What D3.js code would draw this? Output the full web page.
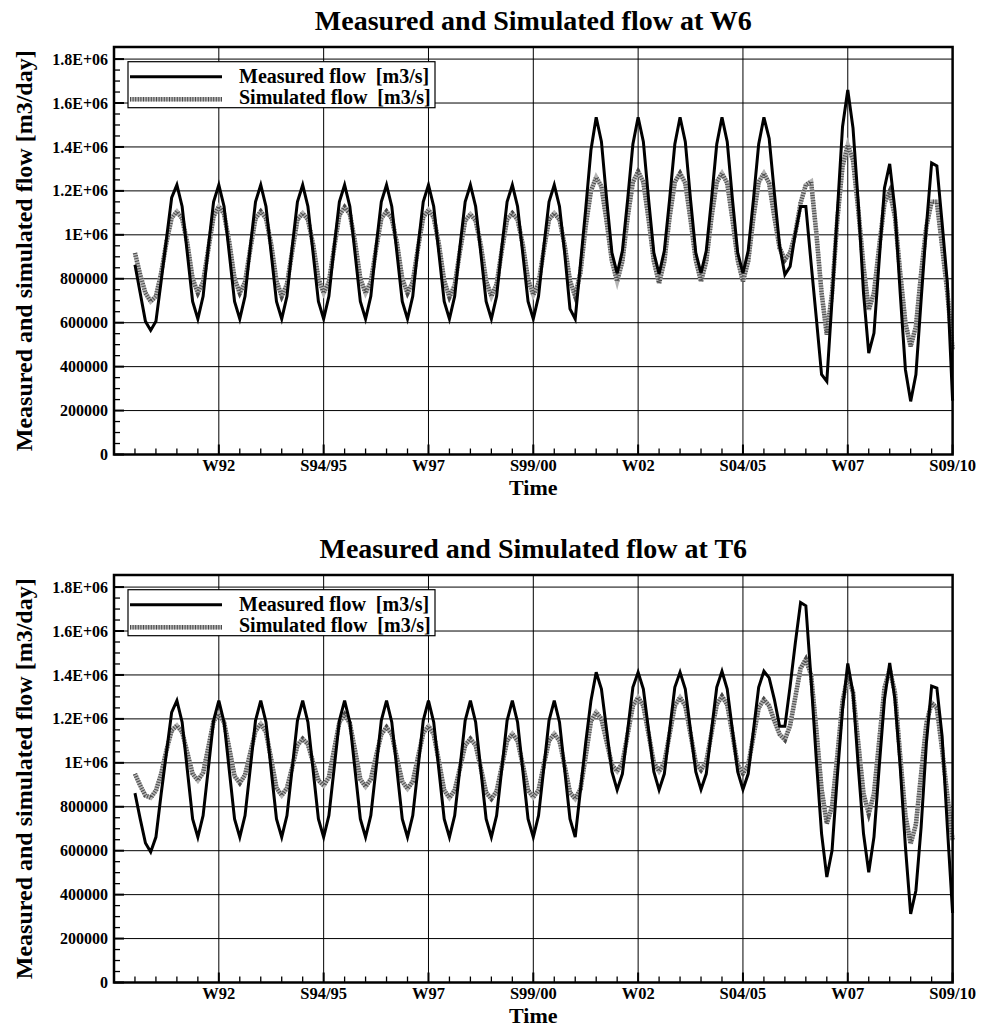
<!DOCTYPE html>
<html>
<head>
<meta charset="utf-8">
<title>Measured and Simulated flow</title>
<style>
  body { margin: 0; background: #fff; }
  text { font-family: "Liberation Serif", "Times New Roman", serif; font-weight: bold; fill: #000; }
</style>
</head>
<body>
<div id="chart"></div>
<script src="https://cdn.jsdelivr.net/npm/d3@7/dist/d3.min.js"></script>
<script>
// time axis: one unit = one season (half year), samples every quarter season
var seasonTicks = [5, 10, 15, 20, 25, 30, 35, 40];
var seasonLabels = ["W92", "S94/95", "W97", "S99/00", "W02", "S04/05", "W07", "S09/10"];
var firstSeason = 1;
var samplesPerSeason = 4;

var flowTicks = [0, 200000, 400000, 600000, 800000, 1000000, 1200000, 1400000, 1600000, 1800000];
var flowLabels = ["0", "200000", "400000", "600000", "800000", "1E+06", "1.2E+06", "1.4E+06", "1.6E+06", "1.8E+06"];

// flows in 1000 m3/day, one row = one year
var measuredW6 = [
  864, 735, 606, 565, 606, 790, 980, 1169,
  1227, 1129, 913, 697, 617, 720, 945, 1150,
  1227, 1129, 913, 697, 617, 720, 945, 1150,
  1227, 1129, 913, 697, 617, 720, 945, 1150,
  1227, 1129, 913, 697, 617, 720, 945, 1150,
  1227, 1129, 913, 697, 617, 720, 945, 1150,
  1227, 1129, 913, 697, 617, 720, 945, 1150,
  1227, 1129, 913, 697, 617, 720, 945, 1150,
  1227, 1129, 913, 697, 617, 720, 945, 1150,
  1227, 1129, 913, 697, 617, 720, 945, 1150,
  1227, 1129, 913, 663, 617, 868, 1118, 1386,
  1535, 1424, 1160, 918, 824, 927, 1160, 1412,
  1535, 1424, 1160, 918, 822, 927, 1160, 1412,
  1535, 1424, 1160, 918, 826, 927, 1160, 1412,
  1535, 1424, 1160, 918, 826, 927, 1160, 1412,
  1535, 1439, 1189, 949, 818, 856, 1008, 1129,
  1129, 871, 621, 364, 333, 705, 1100, 1492,
  1659, 1486, 1145, 736, 462, 553, 886, 1213,
  1323, 1114, 736, 386, 242, 364, 705, 1038,
  1327, 1314, 1053, 780, 245
];
var simulatedW6 = [
  917, 818, 735, 697, 720, 826, 965, 1077,
  1106, 1075, 960, 800, 735, 785, 935, 1085,
  1129, 1095, 965, 800, 735, 785, 935, 1075,
  1106, 1075, 955, 790, 720, 775, 925, 1070,
  1098, 1070, 955, 800, 735, 785, 940, 1090,
  1126, 1095, 965, 800, 735, 785, 935, 1075,
  1106, 1075, 960, 800, 735, 785, 940, 1080,
  1113, 1080, 955, 790, 717, 770, 925, 1065,
  1094, 1065, 950, 790, 720, 775, 930, 1070,
  1098, 1070, 955, 795, 727, 780, 930, 1070,
  1098, 1070, 950, 790, 720, 830, 1040, 1200,
  1262, 1220, 1060, 880, 788, 880, 1080, 1240,
  1288, 1240, 1070, 880, 780, 880, 1080, 1240,
  1280, 1235, 1070, 885, 788, 880, 1080, 1240,
  1280, 1235, 1070, 885, 788, 880, 1080, 1240,
  1280, 1235, 1080, 940, 886, 918, 1008, 1145,
  1227, 1242, 1008, 736, 545, 736, 1068, 1311,
  1409, 1341, 1114, 856, 659, 736, 947, 1144,
  1197, 1083, 826, 599, 492, 583, 826, 1038,
  1150, 1150, 947, 736, 477
];
var measuredT6 = [
  862, 745, 635, 594, 662, 859, 1045, 1230,
  1283, 1185, 965, 745, 662, 760, 975, 1192,
  1283, 1185, 965, 745, 662, 760, 975, 1192,
  1283, 1185, 965, 745, 662, 760, 975, 1192,
  1283, 1185, 965, 745, 662, 760, 975, 1192,
  1283, 1185, 965, 745, 662, 760, 975, 1192,
  1283, 1185, 965, 745, 662, 760, 975, 1192,
  1283, 1185, 965, 745, 662, 760, 975, 1192,
  1283, 1185, 965, 745, 662, 760, 975, 1192,
  1283, 1185, 965, 745, 662, 760, 975, 1192,
  1283, 1185, 965, 745, 662, 877, 1092, 1283,
  1412, 1336, 1147, 960, 877, 950, 1147, 1344,
  1412, 1336, 1147, 960, 877, 950, 1147, 1344,
  1412, 1336, 1147, 960, 879, 950, 1147, 1344,
  1417, 1336, 1147, 960, 879, 950, 1147, 1344,
  1417, 1387, 1288, 1166, 1166, 1349, 1547, 1730,
  1715, 1379, 1013, 678, 480, 601, 937, 1242,
  1452, 1318, 983, 678, 502, 663, 983, 1288,
  1455, 1288, 983, 617, 312, 419, 708, 1090,
  1349, 1340, 1120, 708, 317
];
var simulatedT6 = [
  950, 897, 851, 841, 874, 950, 1056, 1147,
  1170, 1140, 1045, 950, 920, 955, 1070, 1190,
  1223, 1185, 1065, 940, 908, 945, 1045, 1145,
  1177, 1140, 1015, 885, 852, 885, 980, 1080,
  1109, 1085, 1000, 920, 897, 935, 1060, 1185,
  1220, 1180, 1055, 925, 892, 925, 1030, 1130,
  1162, 1130, 1020, 915, 882, 915, 1025, 1135,
  1167, 1130, 1005, 875, 841, 875, 975, 1080,
  1109, 1080, 975, 865, 836, 870, 985, 1100,
  1132, 1100, 990, 875, 844, 875, 990, 1100,
  1132, 1100, 985, 865, 836, 880, 1030, 1190,
  1230, 1200, 1095, 990, 962, 1000, 1130, 1260,
  1298, 1260, 1130, 1000, 962, 1000, 1130, 1260,
  1298, 1260, 1130, 1000, 967, 1005, 1135, 1265,
  1303, 1265, 1130, 990, 952, 990, 1120, 1250,
  1288, 1260, 1190, 1130, 1105, 1170, 1300, 1430,
  1471, 1400, 1150, 880, 724, 800, 1030, 1280,
  1395, 1320, 1090, 860, 769, 860, 1100, 1340,
  1425, 1320, 1030, 760, 632, 720, 950, 1180,
  1273, 1250, 1060, 850, 647
];

var legendNames = ["Measured flow  [m3/s]", "Simulated flow  [m3/s]"];

var panels = [
  {title: "Measured and Simulated flow at W6", measured: measuredW6, simulated: simulatedW6, top: 47},
  {title: "Measured and Simulated flow at T6", measured: measuredT6, simulated: simulatedT6, top: 575}
];

var width = 989, height = 1030;
var left = 114, right = 952.6, plotH = 407.5;

var svg = d3.select("#chart").append("svg")
  .attr("width", width)
  .attr("height", height);

var x = d3.scaleLinear().domain([0, 40]).range([left, right]);

function drawSimulated(g, d, path) {
  g.append("path").attr("d", path(d))
    .attr("fill", "none").attr("stroke", "#b4b4b4").attr("stroke-width", 4.5);
  g.append("path").attr("d", path(d))
    .attr("fill", "none").attr("stroke", "#4a4a4a").attr("stroke-width", 4.5)
    .attr("stroke-dasharray", "1,1.6");
}

panels.forEach(function(p) {
  var top = p.top, bottom = top + plotH;
  var y = d3.scaleLinear().domain([0, 1855000]).range([bottom, top]);
  var g = svg.append("g");

  var line = d3.line()
    .x(function(d, i) { return x(firstSeason + i / samplesPerSeason); })
    .y(function(d) { return y(d * 1000); });

  // grid
  g.selectAll(".hgrid").data(flowTicks.slice(1)).enter().append("line")
    .attr("x1", left).attr("x2", right)
    .attr("y1", function(d) { return y(d); }).attr("y2", function(d) { return y(d); })
    .attr("stroke", "#000").attr("stroke-width", 1);
  g.selectAll(".vgrid").data(seasonTicks.slice(0, -1)).enter().append("line")
    .attr("x1", function(d) { return x(d); }).attr("x2", function(d) { return x(d); })
    .attr("y1", top).attr("y2", bottom)
    .attr("stroke", "#000").attr("stroke-width", 1);

  // ticks, pointing into the plot
  var minorY = d3.range(50000, 1850000, 50000).filter(function(v) { return v % 200000 !== 0; });
  g.selectAll(".ytick").data(flowTicks).enter().append("line")
    .attr("x1", left).attr("x2", left + 10)
    .attr("y1", function(d) { return y(d); }).attr("y2", function(d) { return y(d); })
    .attr("stroke", "#000").attr("stroke-width", 2);
  g.selectAll(".yminor").data(minorY).enter().append("line")
    .attr("x1", left).attr("x2", left + 6)
    .attr("y1", function(d) { return y(d); }).attr("y2", function(d) { return y(d); })
    .attr("stroke", "#000").attr("stroke-width", 1.3);
  var minorX = d3.range(1, 40).filter(function(v) { return v % 5 !== 0; });
  g.selectAll(".xtick").data(seasonTicks).enter().append("line")
    .attr("x1", function(d) { return x(d); }).attr("x2", function(d) { return x(d); })
    .attr("y1", bottom).attr("y2", bottom - 10)
    .attr("stroke", "#000").attr("stroke-width", 2);
  g.selectAll(".xminor").data(minorX).enter().append("line")
    .attr("x1", function(d) { return x(d); }).attr("x2", function(d) { return x(d); })
    .attr("y1", bottom).attr("y2", bottom - 6)
    .attr("stroke", "#000").attr("stroke-width", 1.3);

  // data
  drawSimulated(g, p.simulated, line);
  g.append("path").attr("d", line(p.measured))
    .attr("fill", "none").attr("stroke", "#000").attr("stroke-width", 3)
    .attr("stroke-linejoin", "miter");

  // frame
  g.append("rect")
    .attr("x", left).attr("y", top).attr("width", right - left).attr("height", plotH)
    .attr("fill", "none").attr("stroke", "#000").attr("stroke-width", 2.5);

  // tick labels
  g.selectAll(".ylab").data(flowTicks).enter().append("text")
    .attr("x", left - 6).attr("y", function(d) { return y(d); })
    .attr("dy", "0.35em").attr("text-anchor", "end")
    .style("font-size", "16px")
    .text(function(d, i) { return flowLabels[i]; });
  g.selectAll(".xlab").data(seasonTicks).enter().append("text")
    .attr("x", function(d) { return x(d); }).attr("y", bottom + 16)
    .attr("text-anchor", "middle")
    .style("font-size", "16.5px")
    .text(function(d, i) { return seasonLabels[i]; });

  // titles
  g.append("text").attr("x", (left + right) / 2).attr("y", top - 17)
    .attr("text-anchor", "middle").style("font-size", "28px").text(p.title);
  g.append("text").attr("x", (left + right) / 2).attr("y", bottom + 40)
    .attr("text-anchor", "middle").style("font-size", "22px").text("Time");
  g.append("text")
    .attr("transform", "translate(32," + ((top + bottom) / 2) + ") rotate(-90)")
    .attr("text-anchor", "middle").style("font-size", "24px")
    .text("Measured and simulated flow  [m3/day]");

  // legend
  var lg = g.append("g").attr("transform", "translate(128," + (top + 14.7) + ")");
  lg.append("rect").attr("width", 307).attr("height", 46)
    .attr("fill", "#fff").attr("stroke", "#000").attr("stroke-width", 1.2);
  lg.append("line").attr("x1", 2).attr("x2", 94).attr("y1", 15).attr("y2", 15)
    .attr("stroke", "#000").attr("stroke-width", 3);
  drawSimulated(lg, [[2, 37.5], [94, 37.5]], d3.line());
  lg.selectAll(".ltext").data(legendNames).enter().append("text")
    .attr("x", 111).attr("y", function(d, i) { return 21.5 + i * 21; })
    .style("font-size", "20px").style("white-space", "pre")
    .text(function(d) { return d; });
});
</script>
</body>
</html>
